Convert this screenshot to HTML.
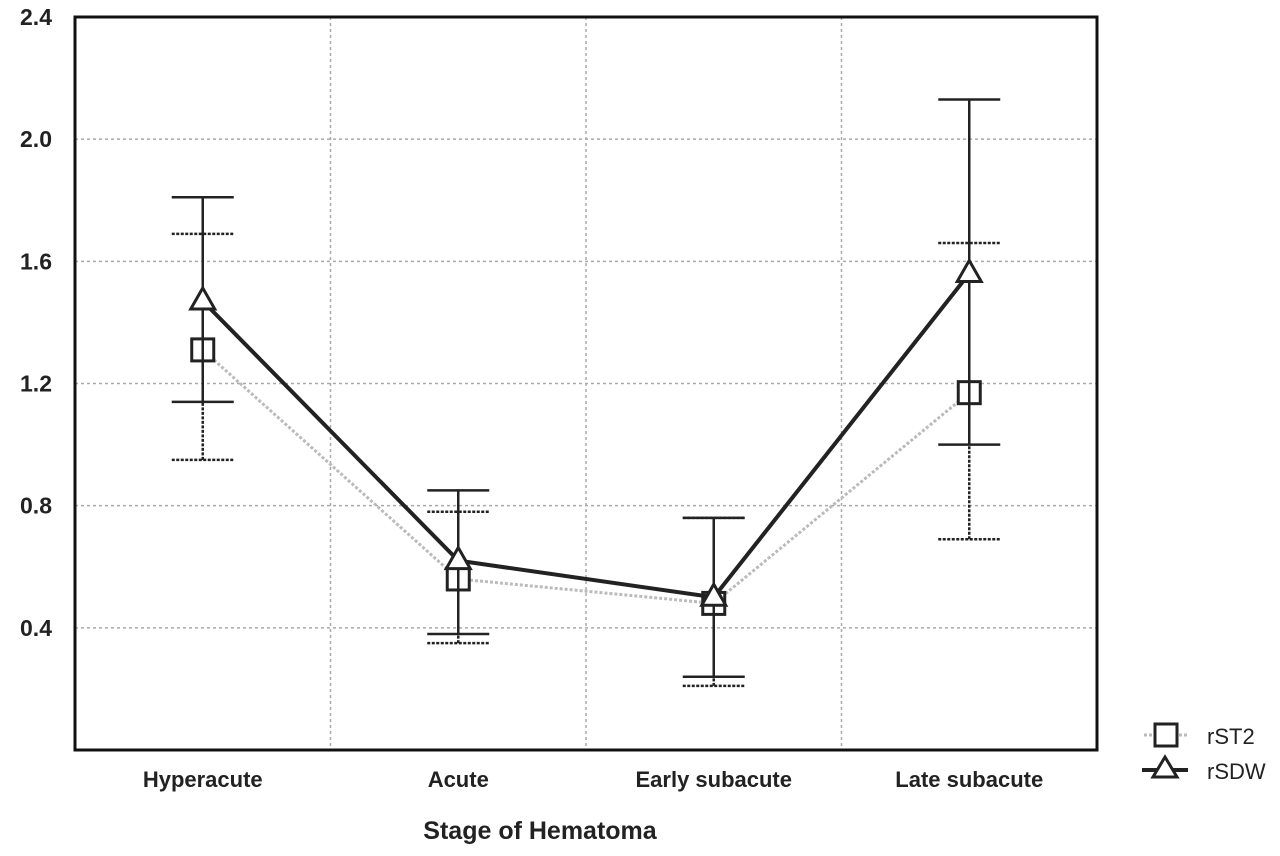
<!DOCTYPE html>
<html><head><meta charset="utf-8"><style>
body{margin:0;background:#fff}
svg{display:block;font-family:"Liberation Sans",sans-serif}
</style></head><body>
<svg id="chart" width="1280" height="856" viewBox="0 0 1280 856" xmlns="http://www.w3.org/2000/svg">
<g id="grid"></g>
<g id="marks"></g>
<rect x="75" y="17" width="1022" height="733" fill="none" stroke="#111" stroke-width="3"/>
<g id="axes"></g>
<text x="540" y="839" font-size="25" font-weight="bold" text-anchor="middle" fill="#222">Stage of Hematoma</text>
<g>
  <line x1="1144" y1="735" x2="1188" y2="735" stroke="#bbb" stroke-width="3" stroke-dasharray="3,2"/>
  <rect x="1155" y="724" width="22" height="22" fill="#fff" stroke="#222" stroke-width="3"/>
  <text x="1207" y="744" font-size="22" fill="#222">rST2</text>
  <line x1="1142" y1="770" x2="1188" y2="770" stroke="#222" stroke-width="4"/>
  <polygon points="1165,757 1153,777 1177,777" fill="#fff" stroke="#222" stroke-width="3"/>
  <text x="1207" y="779" font-size="22" fill="#222">rSDW</text>
</g>
</svg>
<script>
const categories=["Hyperacute","Acute","Early subacute","Late subacute"];
const yTicks=[0.4,0.8,1.2,1.6,2.0,2.4];
const rst2Mean=[1.31,0.56,0.48,1.17];
const rst2Low=[0.95,0.35,0.21,0.69];
const rst2High=[1.69,0.78,0.76,1.66];
const rsdwMean=[1.47,0.62,0.50,1.56];
const rsdwLow=[1.14,0.38,0.24,1.00];
const rsdwHigh=[1.81,0.85,0.76,2.13];
const L=75,R=1097,T=17,B=750,YMAX=2.4;
const NS="http://www.w3.org/2000/svg";
const y=v=>B-(v/YMAX)*(B-T);
const band=(R-L)/categories.length;
const x=i=>L+band*(i+0.5);
function mk(tag,attrs,parent){const e=document.createElementNS(NS,tag);for(const k in attrs)e.setAttribute(k,attrs[k]);parent.appendChild(e);return e;}
const grid=document.getElementById('grid'),marks=document.getElementById('marks'),axes=document.getElementById('axes');
yTicks.forEach(t=>{
  if(t<YMAX){const g=mk('line',{x1:L,x2:R,y1:y(t),y2:y(t),stroke:'#aaa','stroke-width':1.5,'stroke-dasharray':'3,3'},grid);
  
  }
  const tx=mk('text',{x:52,y:y(t)+8,'font-size':23,'font-weight':'bold','text-anchor':'end',fill:'#222'},axes);
  tx.textContent=t.toFixed(1);
  
  
});
categories.forEach((c,i)=>{
  if(i>0){const g=mk('line',{x1:L+band*i,x2:L+band*i,y1:T,y2:B,stroke:'#aaa','stroke-width':1.5,'stroke-dasharray':'3,3'},grid);
  
  }
  const tx=mk('text',{x:x(i),y:787,'font-size':22,'font-weight':'bold','text-anchor':'middle',fill:'#222'},axes);
  tx.textContent=c;
  
  
});
function series(mean,lo,hi,color,width,dash,name,marker){
  const g=mk('g',{},marks);
  
  
  mean.forEach((m,i)=>{
    const eb=mk('g',{stroke:'#222','stroke-width':2.5},g);
    
    
    const d=dash?{'stroke-dasharray':'3,1.5'}:{};
    mk('line',Object.assign({x1:x(i),x2:x(i),y1:y(lo[i]),y2:y(hi[i])},d),eb);
    mk('line',Object.assign({x1:x(i)-31,x2:x(i)+31,y1:y(hi[i]),y2:y(hi[i])},d),eb);
    mk('line',Object.assign({x1:x(i)-31,x2:x(i)+31,y1:y(lo[i]),y2:y(lo[i])},d),eb);
  });
  const pl=mk('polyline',{points:mean.map((m,i)=>x(i)+','+y(m)).join(' '),fill:'none',stroke:color,'stroke-width':width,'stroke-dasharray':dash?'3,2':'none'},g);
  
  
  mean.forEach((m,i)=>{
    let p;
    if(marker==='square')p=mk('rect',{x:x(i)-11,y:y(m)-11,width:22,height:22,fill:'#fff',stroke:'#222','stroke-width':3},g);
    else p=mk('polygon',{points:`${x(i)},${y(m)-13} ${x(i)-12},${y(m)+8} ${x(i)+12},${y(m)+8}`,fill:'#fff',stroke:'#222','stroke-width':3},g);
    
    
  });
}
series(rst2Mean,rst2Low,rst2High,'#bbb',3,true,'rst2','square');
series(rsdwMean,rsdwLow,rsdwHigh,'#222',4,false,'rsdw','triangle');
</script>
</body></html>
